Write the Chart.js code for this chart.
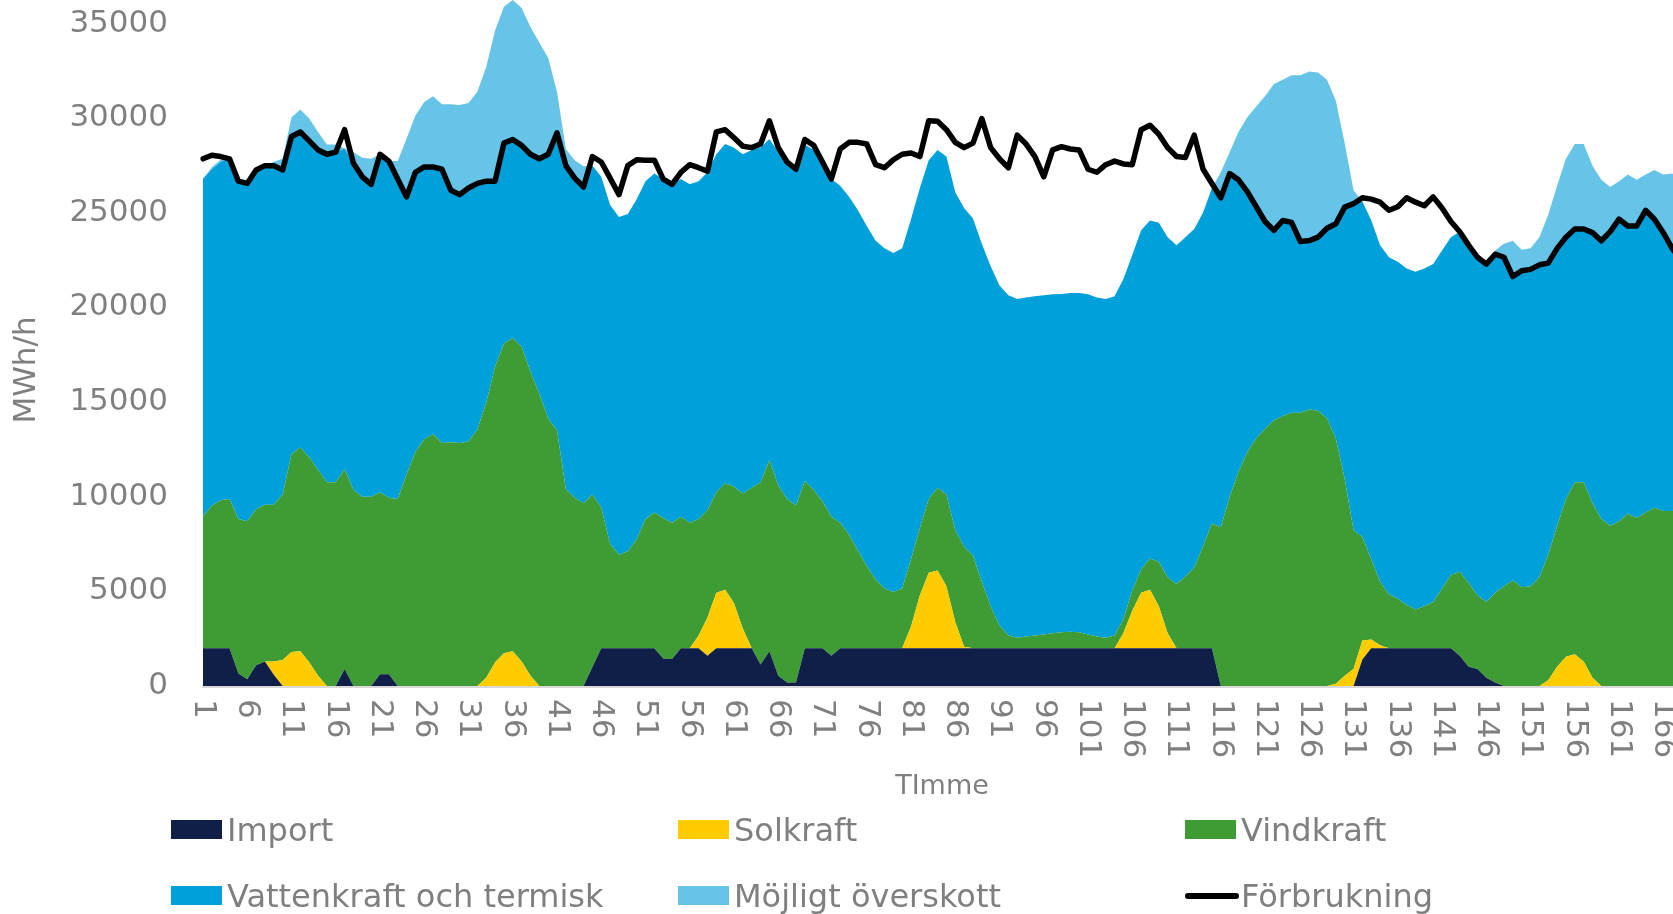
<!DOCTYPE html>
<html>
<head>
<meta charset="utf-8">
<title>Timme – produktion och förbrukning</title>
<script src="https://cdn.jsdelivr.net/npm/chart.js@4.4.1/dist/chart.umd.min.js"></script>
<style>
  html, body { margin: 0; padding: 0; background: #fff; overflow: hidden; width: 1673px; height: 914px; }
  #wrap { position: absolute; left: 0; top: 0; width: 1700px; height: 914px; }
  .lg-text { position: absolute; font-family: "DejaVu Sans", Verdana, sans-serif; font-size: 32px; line-height: 40px; color: #7F7F7F; white-space: nowrap; }
  .lg-box { position: absolute; width: 51px; height: 19px; }
  .lg-line { position: absolute; width: 54px; height: 6px; border-radius: 3px; background: #000; }
</style>
</head>
<body>
<div id="wrap"><canvas id="chart"></canvas></div>
<div id="legend"></div>
<script>
// Timmar 1-168
const hours = [
  1, 2, 3, 4, 5, 6, 7, 8, 9, 10, 11, 12, 13, 14, 15, 16, 17, 18, 19, 20,
  21, 22, 23, 24, 25, 26, 27, 28, 29, 30, 31, 32, 33, 34, 35, 36, 37, 38, 39, 40,
  41, 42, 43, 44, 45, 46, 47, 48, 49, 50, 51, 52, 53, 54, 55, 56, 57, 58, 59, 60,
  61, 62, 63, 64, 65, 66, 67, 68, 69, 70, 71, 72, 73, 74, 75, 76, 77, 78, 79, 80,
  81, 82, 83, 84, 85, 86, 87, 88, 89, 90, 91, 92, 93, 94, 95, 96, 97, 98, 99, 100,
  101, 102, 103, 104, 105, 106, 107, 108, 109, 110, 111, 112, 113, 114, 115, 116, 117, 118, 119, 120,
  121, 122, 123, 124, 125, 126, 127, 128, 129, 130, 131, 132, 133, 134, 135, 136, 137, 138, 139, 140,
  141, 142, 143, 144, 145, 146, 147, 148, 149, 150, 151, 152, 153, 154, 155, 156, 157, 158, 159, 160,
  161, 162, 163, 164, 165, 166, 167, 168
];

// y-axelns etiketter
const yTicks = [0, 5000, 10000, 15000, 20000, 25000, 30000, 35000];

const importData = [
  2000, 2000, 2000, 2000, 660, 350, 1090, 1300, 600, 0,
  0, 0, 0, 0, 0, 0, 900, 0, 0, 0,
  620, 620, 0, 0, 0, 0, 0, 0, 0, 0,
  0, 0, 0, 0, 0, 0, 0, 0, 0, 0,
  0, 0, 0, 0, 1000, 2000, 2000, 2000, 2000, 2000,
  2000, 2000, 1450, 1420, 2000, 2000, 2000, 1600, 2000, 2000,
  2000, 2000, 2000, 1130, 1840, 540, 190, 190, 2000, 2000,
  2000, 1600, 2000, 2000, 2000, 2000, 2000, 2000, 2000, 2000,
  2000, 2000, 2000, 2000, 2000, 2000, 2000, 2000, 2000, 2000,
  2000, 2000, 2000, 2000, 2000, 2000, 2000, 2000, 2000, 2000,
  2000, 2000, 2000, 2000, 2000, 2000, 2000, 2000, 2000, 2000,
  2000, 2000, 2000, 2000, 2000, 0, 0, 0, 0, 0,
  0, 0, 0, 0, 0, 0, 0, 0, 0, 0,
  0, 1400, 2000, 2000, 2000, 2000, 2000, 2000, 2000, 2000,
  2000, 2000, 1600, 1020, 900, 430, 190, 0, 0, 0,
  0, 0, 0, 0, 0, 0, 0, 0, 0, 0,
  0, 0, 0, 0, 0, 0, 0, 0
];

const solarData = [
  0, 0, 0, 0, 0, 0, 0, 0, 700, 1370,
  1800, 1840, 1250, 540, 0, 0, 0, 0, 0, 0,
  0, 0, 0, 0, 0, 0, 0, 0, 0, 0,
  0, 0, 430, 1250, 1730, 1840, 1300, 540, 0, 0,
  0, 0, 0, 0, 0, 0, 0, 0, 0, 0,
  0, 0, 0, 0, 0, 0, 670, 2020, 2920, 3080,
  2370, 1030, 0, 0, 0, 0, 0, 0, 0, 0,
  0, 0, 0, 0, 0, 0, 0, 0, 0, 0,
  1140, 2800, 3980, 4100, 3270, 1380, 80, 0, 0, 0,
  0, 0, 0, 0, 0, 0, 0, 0, 0, 0,
  0, 0, 0, 0, 800, 1970, 2920, 3080, 2210, 790,
  0, 0, 0, 0, 0, 0, 0, 0, 0, 0,
  0, 0, 0, 0, 0, 0, 0, 0, 120, 540,
  900, 1000, 450, 150, 0, 0, 0, 0, 0, 0,
  0, 0, 0, 0, 0, 0, 0, 0, 0, 0,
  0, 0, 310, 1020, 1540, 1680, 1300, 430, 0, 0,
  0, 0, 0, 0, 0, 0, 0, 0
];

const windData = [
  6940, 7530, 7810, 7880, 8160, 8350, 8250, 8270, 8270, 8750,
  10450, 10760, 10830, 10880, 10760, 10760, 10570, 10350, 10000, 10000,
  9620, 9330, 9880, 11180, 12360, 13030, 13310, 12840, 12880, 12840,
  12910, 13550, 14530, 15610, 16360, 16550, 16620, 16080, 15440, 14140,
  13500, 10400, 9950, 9650, 9120, 7410, 5520, 4930, 5120, 5750,
  6820, 7170, 7420, 7210, 6940, 6630, 6150, 5670, 5320, 5630,
  6150, 7140, 8470, 9630, 10100, 10050, 9690, 9340, 8830, 8350,
  7760, 7340, 6630, 5990, 5160, 4340, 3630, 3150, 2960, 3150,
  3550, 3550, 3900, 4370, 4850, 4850, 5270, 4880, 3510, 2210,
  1190, 670, 550, 620, 670, 720, 790, 840, 860, 840,
  720, 620, 550, 670, 750, 1070, 1250, 1660, 2360, 2950,
  3390, 3790, 4260, 5400, 6580, 8390, 10000, 11300, 12360, 13070,
  13590, 14020, 14260, 14440, 14440, 14610, 14540, 14140, 12950, 10410,
  7330, 5470, 4240, 3360, 2850, 2610, 2280, 2040, 2210, 2440,
  3150, 3860, 4430, 4440, 3900, 4010, 4730, 5270, 5580, 5220,
  5270, 5740, 6620, 7440, 8340, 9080, 9460, 9220, 8820, 8460,
  8700, 9100, 8870, 9170, 9410, 9240, 9240, 9300
];

const hydroData = [
  17860, 17770, 17890, 17970, 17850, 17850, 17920, 17920, 17920, 17140,
  16780, 16670, 16720, 16900, 17330, 17440, 16930, 17260, 16900, 16500,
  17850, 17780, 16900, 14660, 14780, 14390, 14110, 14460, 13310, 13120,
  13400, 13000, 11710, 9810, 10590, 10480, 10640, 11470, 12410, 13950,
  15720, 17090, 16880, 16710, 17380, 17490, 17890, 17850, 17820, 17970,
  17850, 17900, 17910, 17870, 17840, 17870, 17850, 17850, 17850, 17920,
  17920, 17920, 17850, 17690, 16960, 17610, 17670, 17670, 17770, 17970,
  17850, 17840, 17800, 17850, 17970, 17960, 17890, 17970, 17920, 17970,
  17970, 17960, 17900, 17850, 17850, 17850, 17900, 17820, 17850, 17960,
  17970, 17970, 17900, 17900, 17920, 17920, 17900, 17870, 17900, 17920,
  17970, 17900, 17900, 17920, 17950, 17730, 17900, 17850, 17900, 17970,
  17900, 17920, 17880, 17610, 17730, 17400, 17070, 15440, 13760, 12250,
  10950, 10050, 10330, 10050, 9040, 8920, 9170, 10040, 11350, 14230,
  17250, 17730, 17920, 17780, 17800, 17800, 17780, 17850, 17850, 17850,
  17850, 17850, 17970, 17830, 17850, 17850, 17890, 17380, 16050, 16720,
  16740, 16510, 15410, 14660, 13830, 13380, 13380, 14300, 14700, 15540,
  15960, 15200, 15430, 15960, 15250, 14710, 13880, 13200
];

const surplusData = [
  0, 100, 100, 0, 0, 0, 0, 0, 200, 600,
  1020, 1180, 1180, 950, 520, 410, 0, 590, 1000, 1350,
  0, 0, 950, 3070, 3000, 3430, 3740, 3430, 4540, 4730,
  4490, 4840, 6030, 7960, 7210, 7370, 7260, 6730, 6150, 5080,
  2170, 880, 950, 1100, 0, 0, 0, 0, 0, 0,
  0, 0, 0, 0, 0, 0, 0, 0, 0, 0,
  0, 0, 0, 0, 0, 0, 0, 0, 0, 0,
  0, 0, 0, 0, 0, 0, 0, 0, 0, 0,
  0, 0, 0, 0, 0, 0, 0, 0, 0, 0,
  0, 0, 0, 0, 0, 0, 0, 0, 0, 0,
  0, 0, 0, 0, 0, 0, 0, 0, 0, 0,
  0, 0, 0, 0, 0, 1350, 1130, 2530, 3930, 5290,
  6620, 7730, 7440, 7780, 8790, 8930, 8700, 7850, 6500, 3500,
  710, 0, 0, 0, 0, 0, 0, 0, 0, 0,
  0, 0, 0, 0, 0, 0, 190, 710, 1890, 1110,
  1110, 1460, 2550, 3310, 4140, 4490, 4490, 3540, 3220, 2360,
  2010, 2720, 2440, 1890, 2600, 3070, 3950, 4300
];

const consumption = [
  27850, 28040, 27970, 27850, 26670, 26550, 27260, 27490, 27490, 27260,
  29030, 29270, 28800, 28320, 28090, 28200, 29390, 27610, 26900, 26500,
  28090, 27730, 26780, 25840, 27140, 27420, 27420, 27300, 26190, 25960,
  26310, 26550, 26670, 26670, 28680, 28870, 28560, 28090, 27850, 28090,
  29220, 27490, 26830, 26360, 27970, 27680, 26830, 25960, 27490, 27800,
  27780, 27780, 26780, 26500, 27140, 27540, 27380, 27190, 29270, 29390,
  28960, 28510, 28440, 28630, 29860, 28440, 27680, 27300, 28870, 28560,
  27680, 26780, 28370, 28720, 28720, 28630, 27540, 27380, 27800, 28090,
  28160, 27970, 29860, 29830, 29390, 28720, 28440, 28680, 29980, 28440,
  27850, 27380, 29100, 28630, 27970, 26900, 28320, 28490, 28370, 28320,
  27300, 27140, 27540, 27730, 27580, 27540, 29390, 29620, 29150, 28440,
  27970, 27920, 29100, 27300, 26550, 25790, 27070, 26740, 26120, 25320,
  24540, 24070, 24590, 24490, 23480, 23530, 23710, 24180, 24420, 25300,
  25480, 25790, 25720, 25560, 25130, 25320, 25790, 25560, 25370, 25840,
  25250, 24540, 24000, 23290, 22650, 22290, 22810, 22650, 21630, 21940,
  22010, 22250, 22340, 23120, 23710, 24140, 24140, 23950, 23520, 24000,
  24660, 24300, 24300, 25130, 24660, 23950, 23120, 22500
];

const FONT = '"DejaVu Sans", Verdana, sans-serif';
const TEXT_GREY = '#7F7F7F';

// x-etiketter var femte timme (roterade medurs som i Excel) och y-axelns titel
const axisText = {
  id: 'axisText',
  afterDraw(chart) {
    const { ctx } = chart;
    const x = chart.scales.x;
    ctx.save();
    ctx.font = '31px ' + FONT;
    ctx.fillStyle = TEXT_GREY;
    ctx.textAlign = 'left';
    ctx.textBaseline = 'middle';
    hours.forEach((h, i) => {
      if (i % 5 !== 0) return;
      ctx.save();
      ctx.translate(x.getPixelForValue(i), x.top + 13);
      ctx.rotate(Math.PI / 2);
      ctx.fillText(String(h), 0, 0);
      ctx.restore();
    });

    ctx.font = '31px ' + FONT;
    ctx.textAlign = 'center';
    ctx.translate(27, 370);
    ctx.rotate(-Math.PI / 2);
    ctx.fillText('MWh/h', 0, 0);
    ctx.restore();
  }
};

function area(label, data, color, fill) {
  return {
    label, data, fill,
    backgroundColor: color,
    borderColor: color,
    borderWidth: 0,
    pointRadius: 0
  };
}

const chart = new Chart(document.getElementById('chart'), {
  type: 'line',
  data: {
    labels: hours,
    datasets: [
      area('Import', importData, '#0F1F47', 'origin'),
      area('Solkraft', solarData, '#FFCC00', '-1'),
      area('Vindkraft', windData, '#3F9C35', '-1'),
      area('Vattenkraft och termisk', hydroData, '#00A0DA', '-1'),
      area('Möjligt överskott', surplusData, '#66C4E8', '-1'),
      {
        label: 'Förbrukning',
        data: consumption,
        stack: 'use',
        order: -1,
        fill: false,
        borderColor: '#000000',
        backgroundColor: '#000000',
        borderWidth: 5.5,
        borderJoinStyle: 'round',
        borderCapStyle: 'round',
        pointRadius: 0
      }
    ]
  },
  options: {
    responsive: true,
    maintainAspectRatio: false,
    animation: false,
    layout: { padding: { left: 0, right: 19, top: 0, bottom: 0 } },
    elements: { line: { tension: 0 } },
    plugins: {
      legend: { display: false },
      tooltip: { enabled: false }
    },
    scales: {
      x: {
        type: 'category',
        offset: false,
        border: { display: true, color: '#D9D9D9', width: 3 },
        grid: { display: false, drawTicks: false },
        ticks: { display: false },
        title: {
          display: true,
          text: 'TImme',
          color: TEXT_GREY,
          font: { family: FONT, size: 27 },
          padding: { top: 0, bottom: 111 }
        },
        afterFit(scale) {
          scale.height = 228;
          scale.paddingLeft = 0;
          scale.paddingRight = 0;
        }
      },
      y: {
        stacked: true,
        min: 0,
        max: 36240,
        border: { display: false },
        grid: { display: false, drawTicks: false },
        afterBuildTicks(scale) {
          scale.ticks = yTicks.map(v => ({ value: v }));
        },
        ticks: {
          padding: 35,
          color: TEXT_GREY,
          font: { family: FONT, size: 31 },
          callback: v => String(v)
        },
        afterFit(scale) {
          scale.width = 203;
          scale.paddingTop = 0;
          scale.paddingBottom = 0;
        }
      }
    }
  },
  plugins: [axisText]
});

// Legend i tre kolumner, två rader
function buildLegend() {
  const box = document.getElementById('legend');
  box.innerHTML = chart.data.datasets.map((ds, i) => {
    const left = 171 + (i % 3) * 507;
    const row = Math.floor(i / 3) * 66;
    const mark = ds.label === 'Förbrukning'
      ? `<div class="lg-line" style="left:${left}px;top:${827 + row}px"></div>`
      : `<div class="lg-box" style="left:${left}px;top:${820 + row}px;background:${ds.backgroundColor}"></div>`;
    return mark + `<div class="lg-text" style="left:${left + 56}px;top:${810 + row}px">${ds.label}</div>`;
  }).join('');
}

buildLegend();
</script>
</body>
</html>
